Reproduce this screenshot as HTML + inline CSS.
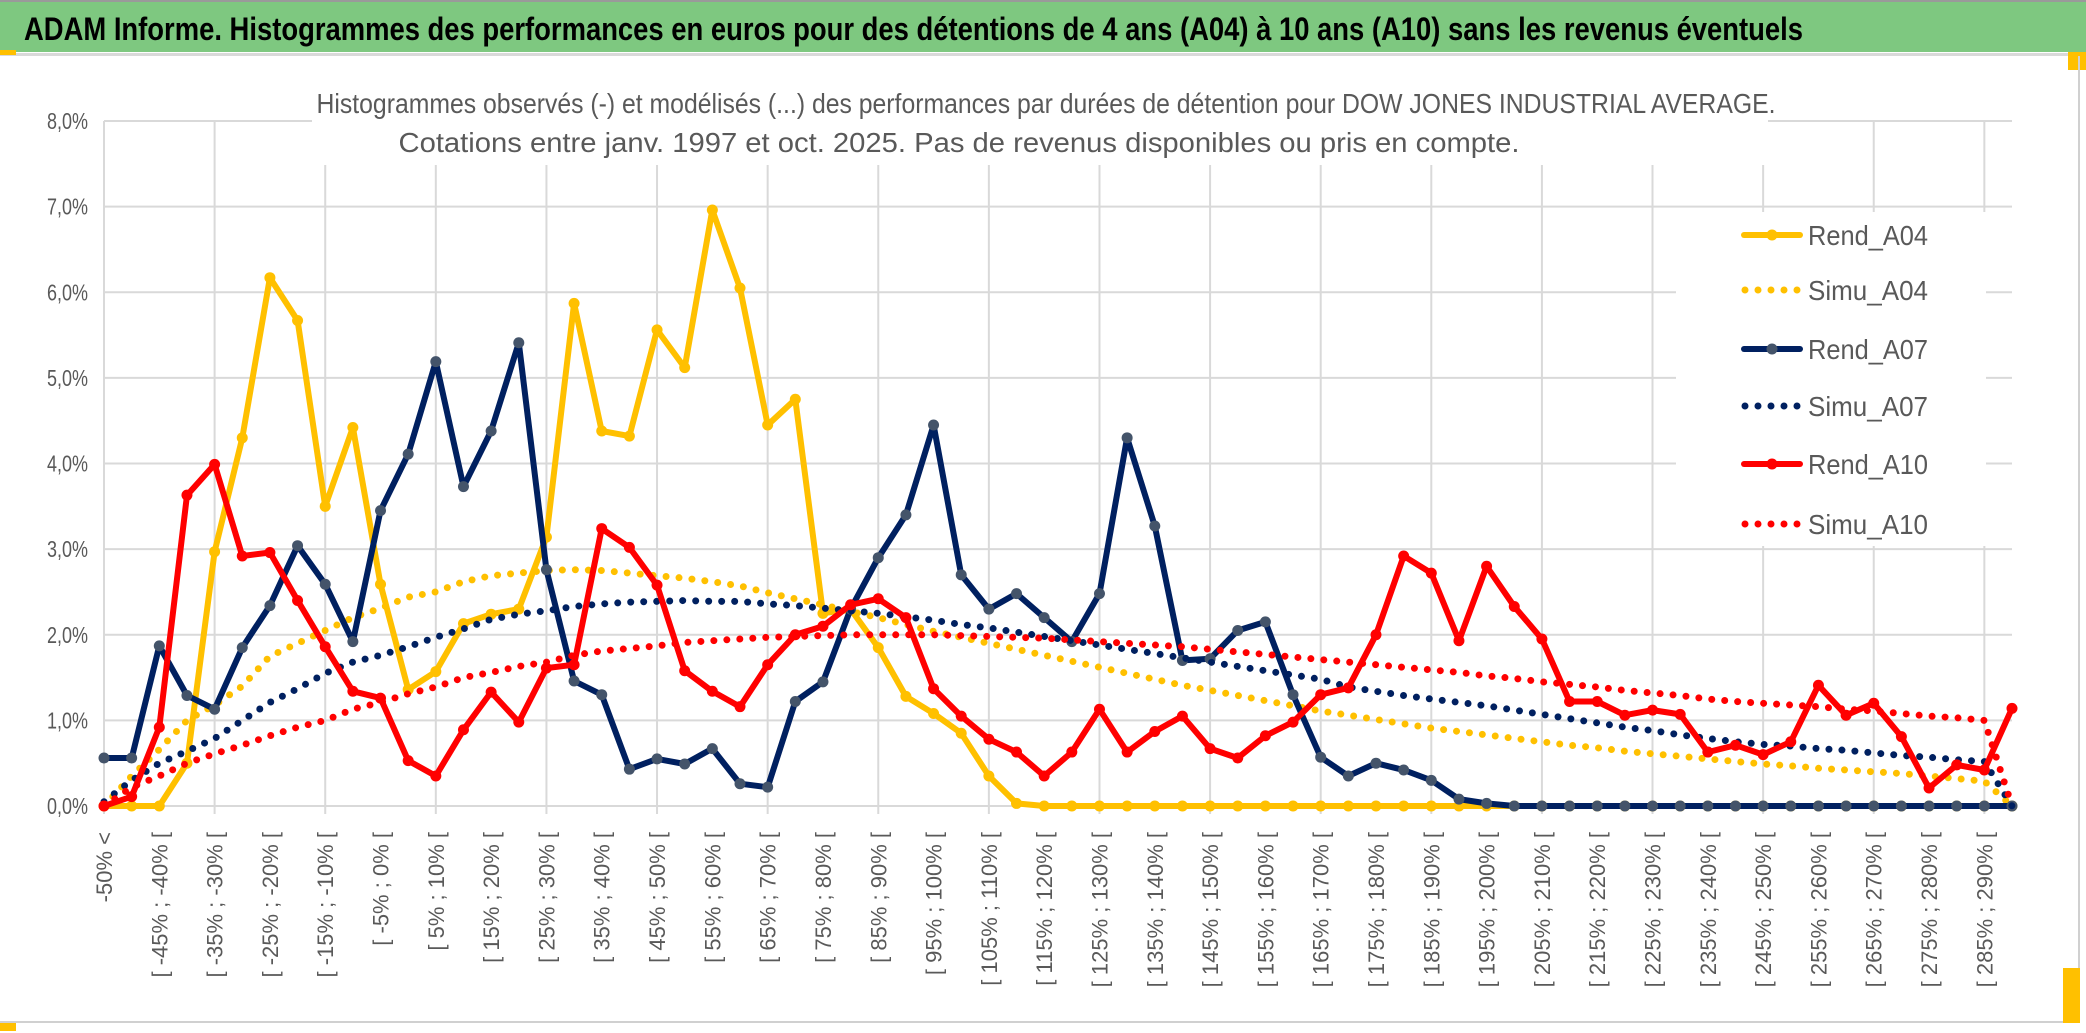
<!DOCTYPE html>
<html><head><meta charset="utf-8"><style>
html,body{margin:0;padding:0;background:#fff;}
svg{display:block;font-family:"Liberation Sans",sans-serif;}
</style></head><body>
<svg id="chart" width="2086" height="1033" viewBox="0 0 2086 1033" xmlns="http://www.w3.org/2000/svg">
<rect x="0" y="0" width="2086" height="1033" fill="#fff"/>
<rect x="0" y="2" width="2086" height="50" fill="#7ec880"/>
<rect x="0" y="0" width="2086" height="2" fill="#9a9a9a"/>
<rect x="0" y="53" width="2086" height="3" fill="#d9d9d9"/>
<rect x="0" y="50" width="16" height="5" fill="#ffc000"/>
<rect x="2068" y="52" width="18" height="18" fill="#ffc000"/>
<text x="24" y="40" font-size="32" font-weight="bold" fill="#000" textLength="1779" lengthAdjust="spacingAndGlyphs">ADAM Informe. Histogrammes des performances en euros pour des détentions de 4 ans (A04) à 10 ans (A10) sans les revenus éventuels</text>
<rect x="2078" y="56" width="2" height="967" fill="#d0d0d0"/>
<rect x="0" y="1021" width="2080" height="2" fill="#d0d0d0"/>
<rect x="0" y="1023" width="16" height="8" fill="#ffc000"/>
<rect x="2063" y="968" width="17" height="55" fill="#ffc000"/>
<g id="grid"></g>
<rect x="312" y="56" width="1456" height="109" fill="#fff"/>
<text x="1046" y="113" font-size="28" fill="#595959" text-anchor="middle" textLength="1459" lengthAdjust="spacingAndGlyphs">Histogrammes observés (-) et modélisés (...) des performances par durées de détention pour DOW JONES INDUSTRIAL AVERAGE.</text>
<text x="959" y="152" font-size="28" fill="#595959" text-anchor="middle" textLength="1121" lengthAdjust="spacingAndGlyphs">Cotations entre janv. 1997 et oct. 2025. Pas de revenus disponibles ou pris en compte.</text>
<g id="yaxis"></g>
<g id="xaxis"></g>
<rect x="1676" y="212" width="310" height="334" fill="#fff"/>
<g id="series"></g>
<g id="legend"></g>
</svg>
<script>
const yTicks = [0,1,2,3,4,5,6,7,8];
const rendA04 = [0,0,0,0.5,2.97,4.30,6.17,5.67,3.50,4.42,2.59,1.36,1.57,2.13,2.24,2.30,3.14,5.87,4.38,4.32,5.56,5.12,6.96,6.05,4.45,4.75,2.25,2.3,1.85,1.28,1.08,0.85,0.35,0.03,0,0,0,0,0,0,0,0,0,0,0,0,0,0,0,0,0,0,0,0,0,0,0,0,0,0,0,0,0,0,0,0,0,0,0,0];
const simuA04 = [0,0.35,0.66,1.0,1.18,1.4,1.75,1.9,2.05,2.2,2.31,2.44,2.5,2.62,2.69,2.72,2.75,2.76,2.75,2.72,2.69,2.66,2.62,2.57,2.49,2.42,2.35,2.27,2.2,2.12,2.04,1.97,1.9,1.83,1.76,1.69,1.62,1.55,1.48,1.41,1.35,1.29,1.23,1.17,1.11,1.06,1.01,0.96,0.91,0.87,0.83,0.79,0.75,0.71,0.68,0.64,0.61,0.58,0.55,0.52,0.49,0.47,0.44,0.42,0.4,0.38,0.35,0.32,0.29,0];
const rendA07 = [0.56,0.56,1.87,1.29,1.13,1.85,2.34,3.04,2.59,1.92,3.45,4.11,5.19,3.73,4.38,5.41,2.76,1.46,1.30,0.43,0.55,0.49,0.67,0.26,0.22,1.22,1.45,2.3,2.9,3.4,4.45,2.7,2.3,2.48,2.2,1.92,2.48,4.3,3.27,1.7,1.72,2.05,2.15,1.3,0.57,0.35,0.5,0.42,0.3,0.08,0.03,0,0,0,0,0,0,0,0,0,0,0,0,0,0,0,0,0,0,0];
const simuA07 = [0.05,0.3,0.5,0.64,0.79,1.0,1.21,1.37,1.55,1.68,1.76,1.86,1.97,2.07,2.18,2.24,2.28,2.33,2.36,2.38,2.39,2.4,2.39,2.39,2.36,2.34,2.31,2.28,2.25,2.21,2.17,2.12,2.08,2.03,1.98,1.93,1.88,1.83,1.78,1.73,1.68,1.63,1.58,1.53,1.48,1.39,1.34,1.29,1.25,1.21,1.17,1.12,1.07,1.02,0.97,0.92,0.88,0.83,0.79,0.75,0.72,0.7,0.67,0.65,0.62,0.59,0.57,0.54,0.52,0];
const rendA10 = [0,0.11,0.92,3.63,3.99,2.92,2.96,2.40,1.86,1.34,1.26,0.53,0.35,0.89,1.33,0.98,1.61,1.65,3.24,3.02,2.58,1.58,1.34,1.16,1.65,2.0,2.1,2.35,2.42,2.2,1.37,1.05,0.78,0.63,0.35,0.63,1.13,0.63,0.87,1.05,0.67,0.56,0.82,0.98,1.3,1.38,2.0,2.92,2.72,1.93,2.8,2.33,1.95,1.22,1.22,1.06,1.12,1.07,0.63,0.71,0.6,0.75,1.41,1.06,1.2,0.81,0.21,0.48,0.42,1.14];
const simuA10 = [0,0.22,0.35,0.5,0.61,0.71,0.82,0.92,1.0,1.13,1.21,1.31,1.39,1.5,1.56,1.63,1.68,1.76,1.81,1.84,1.87,1.91,1.93,1.95,1.97,1.98,1.99,2.0,2.0,2.0,2.0,1.99,1.98,1.97,1.96,1.94,1.92,1.9,1.88,1.86,1.83,1.8,1.77,1.74,1.71,1.68,1.65,1.62,1.59,1.56,1.52,1.49,1.45,1.42,1.39,1.35,1.32,1.29,1.25,1.22,1.2,1.18,1.16,1.13,1.11,1.08,1.05,1.03,1.0,0];
const seriesNames = ["Rend_A04","Simu_A04","Rend_A07","Simu_A07","Rend_A10","Simu_A10"];
const categories = ["-50% <"];
for (let k = -50; k < 295; k += 5) categories.push("[ " + k + "% ; " + (k + 5) + "% [");

const NS = "http://www.w3.org/2000/svg";
const X0 = 104, XN = 2012, Y0 = 806, YMAX = 121, VMAX = 8;
const n = rendA04.length;
function xs(i){ return X0 + (XN - X0) * i / (n - 1); }
function ys(v){ return Y0 - (Y0 - YMAX) * v / VMAX; }
function mk(tag, attrs, parent){ const e = document.createElementNS(NS, tag); for (const k in attrs) e.setAttribute(k, attrs[k]); parent.appendChild(e); return e; }

const grid = document.getElementById('grid');
yTicks.forEach(t => {
  const l = mk('line', {x1:X0, x2:XN, y1:ys(t), y2:ys(t), stroke:'#d9d9d9', 'stroke-width':2}, grid);
  
  
});
for (let i = 0; i < n; i += 4) {
  const l = mk('line', {x1:xs(i), x2:xs(i), y1:YMAX, y2:Y0 + 8, stroke:'#d9d9d9', 'stroke-width':2}, grid);
  
  
}
const yaxis = document.getElementById('yaxis');
yTicks.forEach(t => {
  const tx = mk('text', {x:88, y:ys(t) + 8, 'font-size':23, fill:'#595959', 'text-anchor':'end', textLength:41, lengthAdjust:'spacingAndGlyphs'}, yaxis);
  tx.textContent = t.toFixed(1).replace('.', ',') + '%';
  
  
});
const xaxis = document.getElementById('xaxis');
categories.forEach((c, i) => {
  if (i % 2) return;
  const x = xs(i) + 8, y = 832;
  const tx = mk('text', {x:x, y:y, 'font-size':22, fill:'#595959', 'text-anchor':'end', transform:'rotate(-90 ' + x + ' ' + y + ')'}, xaxis);
  tx.textContent = c;
  
  
});

const seriesG = document.getElementById('series');
function pts(arr){ return arr.map((v, i) => xs(i).toFixed(1) + ',' + ys(v).toFixed(1)).join(' '); }
function drawSolid(arr, color, mcolor, name){
  const g = mk('g', {}, seriesG);
  
  
  mk('polyline', {points:pts(arr), fill:'none', stroke:color, 'stroke-width':6, 'stroke-linejoin':'round'}, g);
  arr.forEach((v, i) => {
    const c = mk('circle', {cx:xs(i), cy:ys(v), r:5.5, fill:mcolor}, g);
    
    
  });
}
function drawDotted(arr, color, name){
  const p = mk('polyline', {points:pts(arr), fill:'none', stroke:color, 'stroke-width':7, 'stroke-linecap':'round', 'stroke-dasharray':'0 13'}, seriesG);
  
  
}
drawSolid(rendA04, '#ffc000', '#ffc000', 'rend-a04-line');
drawDotted(simuA04, '#ffc000', 'simu-a04-line');
drawSolid(rendA07, '#002060', '#44546a', 'rend-a07-line');
drawDotted(simuA07, '#002060', 'simu-a07-line');
drawSolid(rendA10, '#ff0000', '#ff0000', 'rend-a10-line');
drawDotted(simuA10, '#ff0000', 'simu-a10-line');

const legend = document.getElementById('legend');
const legendColors = ['#ffc000','#ffc000','#002060','#002060','#ff0000','#ff0000'];
const legendY = [235, 290, 349, 406, 464, 524];
seriesNames.forEach((nm, i) => {
  const g = mk('g', {}, legend);
  
  
  const y = legendY[i];
  if (i % 2 === 0) {
    mk('line', {x1:1744, x2:1800, y1:y, y2:y, stroke:legendColors[i], 'stroke-width':6, 'stroke-linecap':'round'}, g);
    mk('circle', {cx:1772, cy:y, r:5.5, fill: i === 2 ? '#44546a' : legendColors[i]}, g);
  } else {
    mk('line', {x1:1745, x2:1800, y1:y, y2:y, stroke:legendColors[i], 'stroke-width':7, 'stroke-linecap':'round', 'stroke-dasharray':'0 13'}, g);
  }
  const t = mk('text', {x:1808, y:y + 10, 'font-size':28, fill:'#595959', textLength:120, lengthAdjust:'spacingAndGlyphs'}, g);
  t.textContent = nm;
});
</script>
</body></html>
